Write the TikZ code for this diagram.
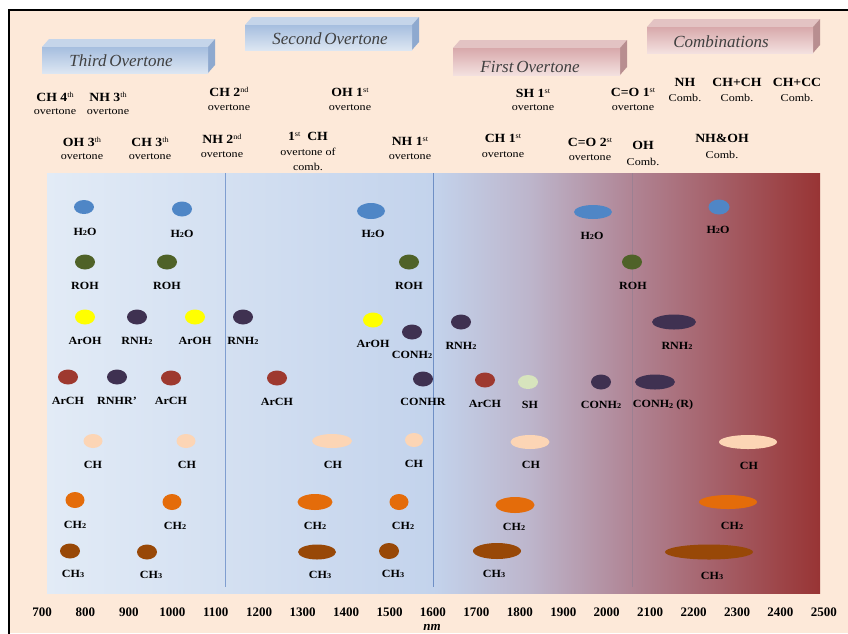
\documentclass[tikz,border=0pt]{standalone}
\usepackage{fontspec}
\setmainfont{Liberation Serif}
\newfontfamily\labfont[FakeStretch=1.1]{Liberation Serif}
\newfontfamily\ovfont[FakeStretch=1.15]{Liberation Serif}
\usetikzlibrary{shapes.geometric}
\definecolor{bgpeach}{HTML}{FDE9D9}
\definecolor{cblue}{HTML}{4F86C6}
\definecolor{colive}{HTML}{4F6228}
\definecolor{cyel}{HTML}{FFFF00}
\definecolor{cpurp}{HTML}{3F3151}
\definecolor{cred}{HTML}{9E392F}
\definecolor{cgreen}{HTML}{D7E4BD}
\definecolor{cpeach}{HTML}{FCD5B5}
\definecolor{corange}{HTML}{E46C0A}
\definecolor{cbrown}{HTML}{984807}
\definecolor{g0}{HTML}{E2EBF6}
\definecolor{g1}{HTML}{C3D3EC}
\definecolor{g2}{HTML}{BDB5CB}
\definecolor{g3}{HTML}{B08494}
\definecolor{g4}{HTML}{983434}
\definecolor{btop}{HTML}{C5D5EA}
\definecolor{bside}{HTML}{8EA9CF}
\definecolor{bfa}{HTML}{A6BEDF}
\definecolor{bfb}{HTML}{DCE6F2}
\definecolor{ptop}{HTML}{E3C3C3}
\definecolor{pside}{HTML}{B88E90}
\definecolor{pfa}{HTML}{D8A9AB}
\definecolor{pfb}{HTML}{F3E0DF}
\definecolor{lineA}{HTML}{7F9ED0}
\definecolor{lineB}{HTML}{6F8FC5}
\definecolor{lineC}{HTML}{9C8092}
\newcommand\subn[1]{\raisebox{-0.6pt}{\fontsize{7.5}{8}\selectfont #1}}
\newcommand\sups[1]{\raisebox{4pt}{\fontsize{7.5}{8}\selectfont\mdseries #1}}
\tikzset{
  spotst/.style={ellipse, inner sep=0pt, draw=none},
  lab/.style={font=\labfont\fontsize{11}{12}\selectfont\bfseries, inner sep=0pt},
  hd/.style={font=\labfont\fontsize{12.5}{14}\selectfont\bfseries, inner sep=0pt},
  ov/.style={font=\ovfont\fontsize{10.5}{12}\selectfont, inner sep=0pt},
  num/.style={font=\fontsize{13}{14}\selectfont\bfseries, inner sep=0pt},
  tabtxt/.style={font=\fontsize{17}{19}\selectfont\itshape, text=black!75, inner sep=0pt},
  sepline/.style={line width=0.8pt}
}
% name, color, x, y, w, h, lx, ly, text
\newcommand\myspot[9]{%
  \node[spotst, fill=#2, minimum width=#5pt, minimum height=#6pt] (#1) at (#3,#4) {};
  \node[lab] (#1l) at (#7,#8) {#9};}
% name, x1, yt, x2, yb, top, side, front-top, front-bottom
\newcommand\tabbox[9]{%
  \fill[#6] (#2,#3) -- (#2+7,#3-8) -- (#4+7,#3-8) -- (#4,#3) -- cycle;
  \fill[#7] (#4,#3) -- (#4+7,#3-8) -- (#4+7,#5-8) -- (#4,#5) -- cycle;
  \shade[top color=#8, bottom color=#9] (#2,#3) rectangle (#4,#5);
  \coordinate (#1) at ({(#2+#4)/2},{(#3+#5)/2});}
% name, x, y1, y2, line1, line2
\newcommand\twoline[6]{%
  \node[hd] (#1a) at (#2,#3) {#5};
  \node[ov] (#1b) at (#2,#4) {#6};}
\begin{document}
\begin{tikzpicture}[x=1pt,y=-1pt]
\useasboundingbox (0,0) rectangle (848,633);
\fill[white] (0,0) rectangle (848,633);
\fill[bgpeach] (9,10) rectangle (848,633);
\draw[line width=1.6pt] (9,640) -- (9,10) -- (860,10);
% plot area
\shade[left color=g0, right color=g1] (47,173) rectangle (433.5,593);
\shade[left color=g1, right color=g2] (433,173) rectangle (530.5,593);
\shade[left color=g2, right color=g3] (530,173) rectangle (632.5,593);
\shade[left color=g3, right color=g4] (632,173) rectangle (820,593);
\coordinate (v1t) at (225,173); \coordinate (v1b) at (225,587);
\coordinate (v2t) at (433,173); \coordinate (v2b) at (433,587);
\coordinate (v3t) at (632,173); \coordinate (v3b) at (632,587);
\draw[sepline, lineA] (v1t) -- (v1b);
\draw[sepline, lineB] (v2t) -- (v2b);
\draw[sepline, lineC] (v3t) -- (v3b);
% tabs
\tabbox{t3}{42}{47}{208}{73}{btop}{bside}{bfa}{bfb}
\node[tabtxt] (t3t) at (121,61) {Third\,Overtone};
\tabbox{t2}{245}{25}{412}{50}{btop}{bside}{bfa}{bfb}
\node[tabtxt] (t2t) at (330,39) {Second\,Overtone};
\tabbox{t1}{453}{48}{620}{75}{ptop}{pside}{pfa}{pfb}
\node[tabtxt] (t1t) at (530,67) {First\,Overtone};
\tabbox{tc}{647}{27}{813}{53}{ptop}{pside}{pfa}{pfb}
\node[tabtxt] (tct) at (721,42) {Combinations};
% band annotations, row 1
\twoline{ch4}{55}{97}{112}{CH 4\sups{th}}{overtone}
\twoline{nh3}{108}{97}{112}{NH 3\sups{th}}{overtone}
\twoline{ch2}{229}{92}{108}{CH 2\sups{nd}}{overtone}
\twoline{oh1}{350}{92}{108}{OH 1\sups{st}}{overtone}
\twoline{sh1}{533}{93}{108}{SH 1\sups{st}}{overtone}
\twoline{co1}{633}{92}{108}{C=O 1\sups{st}}{overtone}
\twoline{nhc}{685}{82}{98}{NH}{Comb.}
\twoline{chch}{737}{82}{98}{CH+CH}{Comb.}
\twoline{chcc}{797}{82}{98}{CH+CC}{Comb.}
% row 2
\twoline{oh3}{82}{142}{157}{OH 3\sups{th}}{overtone}
\twoline{ch3}{150}{142}{157}{CH 3\sups{th}}{overtone}
\twoline{nh2}{222}{139}{155}{NH 2\sups{nd}}{overtone}
\twoline{chc}{308}{136}{152}{1\sups{st}\ \ CH}{overtone of}
\node[ov] (chcc3) at (308,167) {comb.};
\twoline{nh1}{410}{141}{157}{NH 1\sups{st}}{overtone}
\twoline{chf}{503}{138}{155}{CH 1\sups{st}}{overtone}
\twoline{co2}{590}{142}{158}{C=O 2\sups{st}}{overtone}
\twoline{ohc}{643}{145}{162}{OH}{Comb.}
\twoline{nhoh}{722}{138}{155}{NH\&OH}{Comb.}
% H2O
\myspot{h1}{cblue}{84}{207}{20}{14}{85}{232}{H\subn{2}O}
\myspot{h2}{cblue}{182}{209}{20}{15}{182}{234}{H\subn{2}O}
\myspot{h3}{cblue}{371}{211}{28}{16}{373}{234}{H\subn{2}O}
\myspot{h4}{cblue}{593}{212}{38}{14}{592}{236}{H\subn{2}O}
\myspot{h5}{cblue}{719}{207}{21}{15}{718}{230}{H\subn{2}O}
% ROH
\myspot{r1}{colive}{85}{262}{20}{15}{85}{286}{ROH}
\myspot{r2}{colive}{167}{262}{20}{15}{167}{286}{ROH}
\myspot{r3}{colive}{409}{262}{20}{15}{409}{286}{ROH}
\myspot{r4}{colive}{632}{262}{20}{15}{633}{286}{ROH}
% ArOH / RNH2 / CONH2
\myspot{a1}{cyel}{85}{317}{20}{15}{85}{341}{ArOH}
\myspot{n1}{cpurp}{137}{317}{20}{15}{137}{341}{RNH\subn{2}}
\myspot{a2}{cyel}{195}{317}{20}{15}{195}{341}{ArOH}
\myspot{n2}{cpurp}{243}{317}{20}{15}{243}{341}{RNH\subn{2}}
\myspot{a3}{cyel}{373}{320}{20}{15}{373}{344}{ArOH}
\myspot{c1}{cpurp}{412}{332}{20}{15}{412}{355}{CONH\subn{2}}
\myspot{n3}{cpurp}{461}{322}{20}{15}{461}{346}{RNH\subn{2}}
\myspot{n4}{cpurp}{674}{322}{44}{15}{677}{346}{RNH\subn{2}}
% ArCH row
\myspot{ar1}{cred}{68}{377}{20}{15}{68}{401}{ArCH}
\myspot{rn}{cpurp}{117}{377}{20}{15}{117}{401}{RNHR’}
\myspot{ar2}{cred}{171}{378}{20}{15}{171}{401}{ArCH}
\myspot{ar3}{cred}{277}{378}{20}{15}{277}{402}{ArCH}
\myspot{cr}{cpurp}{423}{379}{20}{15}{423}{402}{CONHR}
\myspot{ar4}{cred}{485}{380}{20}{15}{485}{404}{ArCH}
\myspot{sh}{cgreen}{528}{382}{20}{14}{530}{405}{SH}
\myspot{c2}{cpurp}{601}{382}{20}{15}{601}{405}{CONH\subn{2}}
\myspot{c3}{cpurp}{655}{382}{40}{15}{663}{405}{CONH\subn{2} (R)}
% CH
\myspot{k1}{cpeach}{93}{441}{19}{14}{93}{465}{CH}
\myspot{k2}{cpeach}{186}{441}{19}{14}{187}{465}{CH}
\myspot{k3}{cpeach}{332}{441}{40}{14}{333}{465}{CH}
\myspot{k4}{cpeach}{414}{440}{18}{14}{414}{464}{CH}
\myspot{k5}{cpeach}{530}{442}{39}{14}{531}{465}{CH}
\myspot{k6}{cpeach}{748}{442}{58}{14}{749}{466}{CH}
% CH2
\myspot{m1}{corange}{75}{500}{19}{16}{75}{525}{CH\subn{2}}
\myspot{m2}{corange}{172}{502}{19}{16}{175}{526}{CH\subn{2}}
\myspot{m3}{corange}{315}{502}{35}{16}{315}{526}{CH\subn{2}}
\myspot{m4}{corange}{399}{502}{19}{16}{403}{526}{CH\subn{2}}
\myspot{m5}{corange}{515}{505}{39}{16}{514}{527}{CH\subn{2}}
\myspot{m6}{corange}{728}{502}{58}{14}{732}{526}{CH\subn{2}}
% CH3
\myspot{q1}{cbrown}{70}{551}{20}{15}{73}{574}{CH\subn{3}}
\myspot{q2}{cbrown}{147}{552}{20}{15}{151}{575}{CH\subn{3}}
\myspot{q3}{cbrown}{317}{552}{38}{15}{320}{575}{CH\subn{3}}
\myspot{q4}{cbrown}{389}{551}{20}{16}{393}{574}{CH\subn{3}}
\myspot{q5}{cbrown}{497}{551}{48}{16}{494}{574}{CH\subn{3}}
\myspot{q6}{cbrown}{709}{552}{88}{15}{712}{576}{CH\subn{3}}
% axis
\foreach \v [count=\i from 0] in {700,800,...,2500}
  \node[num] (ax\v) at ({42+\i*43.44},612) {\v};
\node[num, font=\fontsize{13}{14}\selectfont\bfseries\itshape] (nm) at (432,627) {nm};
\end{tikzpicture}
\end{document}
